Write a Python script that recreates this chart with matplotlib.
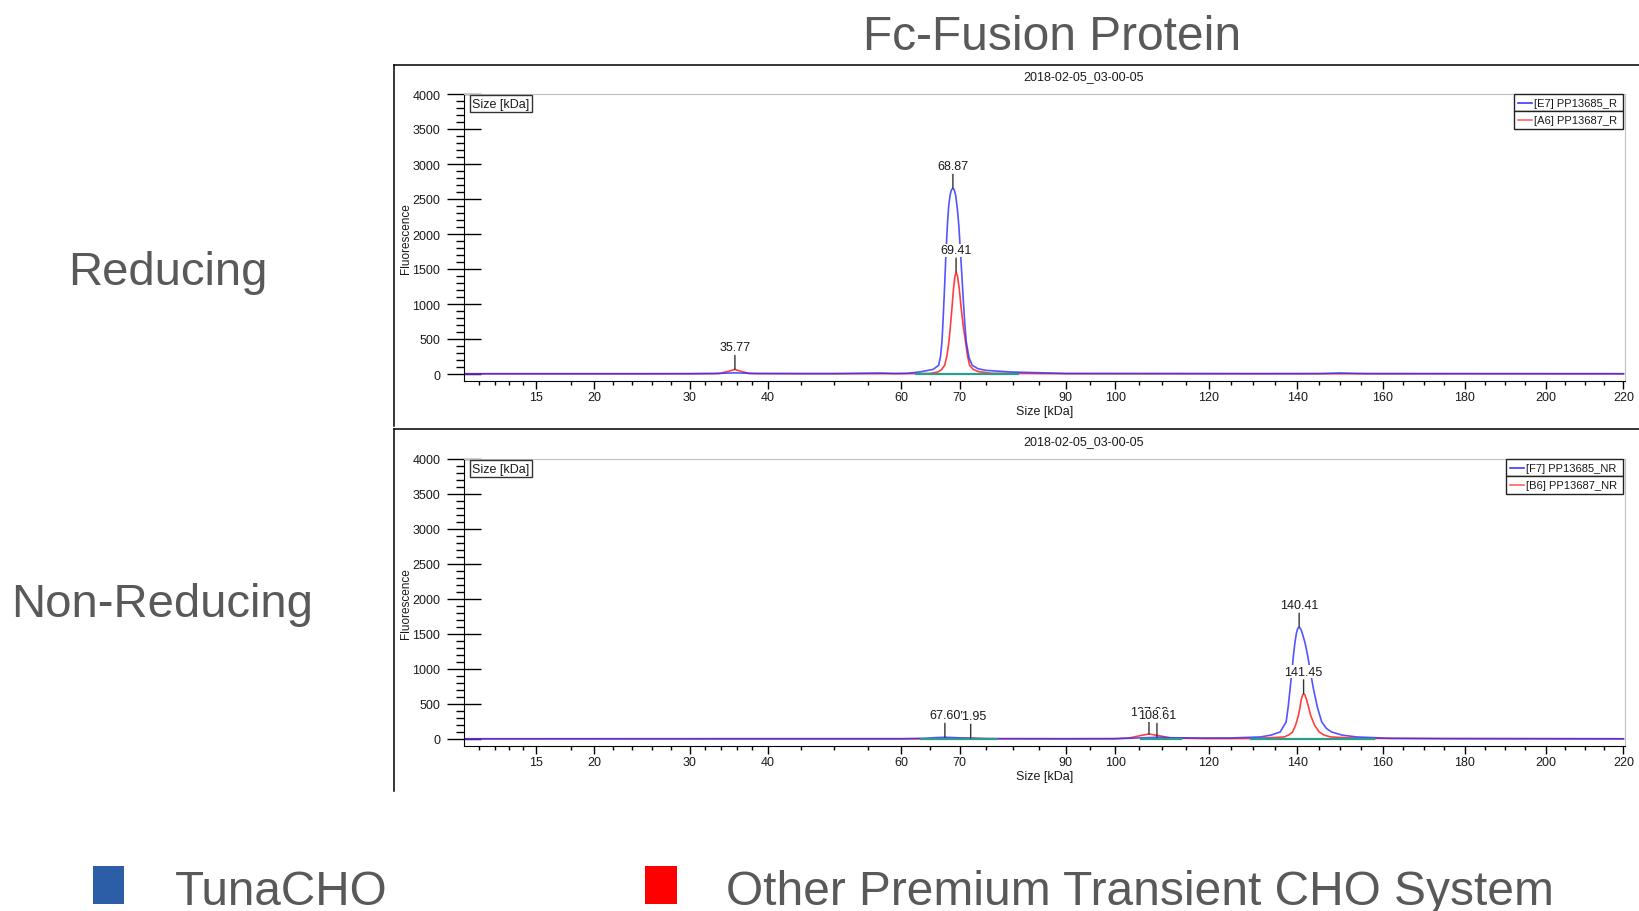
import numpy as np
import matplotlib
matplotlib.use('Agg')
import matplotlib.pyplot as plt
from matplotlib.patches import Rectangle
from matplotlib.lines import Line2D

plt.rcParams['font.family'] = ['Liberation Sans', 'DejaVu Sans']

# size axis of the instrument is a ladder calibration (kDa -> column), not linear
ladder_kda = [9, 10, 11, 12, 13, 14, 15, 20, 30, 40, 60, 70, 90, 100, 120, 140, 160, 180, 200, 220, 225]
ladder_col = [451, 465.5, 480, 495.3, 510, 523.5, 536.8, 594.8, 690.4, 768.4, 901.2, 959.8,
              1065.7, 1115.3, 1209, 1297.3, 1382.6, 1464.6, 1545.3, 1623, 1642.5]

major_ticks = [15, 20, 30, 40, 60, 70, 90, 100, 120, 140, 160, 180, 200, 220]
minor_ticks = [11, 12, 13, 14, 18, 22, 24, 26, 28, 32, 34, 36, 38, 45, 50, 55, 65, 75, 80, 85, 95,
               105, 110, 115, 125, 130, 135, 145, 150, 155, 165, 170, 175, 185, 190, 195, 205, 210, 215]

# ---- Reducing traces (kDa, fluorescence)
red_R_x = [10, 30, 33.8, 35.0, 35.77, 36.5, 37.6, 45, 60, 65, 66.3, 66.9, 67.46, 67.85, 68.19, 68.45,
           68.7, 68.95, 69.18, 69.41, 69.65, 69.95, 70.32, 70.7, 71.14, 71.5, 71.9, 72.6, 73.5, 76, 90, 220]
red_R_y = [3, 3, 8, 40, 66, 40, 8, 4, 4, 8, 29, 60, 124, 260, 457, 690,
           932, 1200, 1380, 1456, 1400, 1220, 932, 680, 457, 260, 124, 65, 35, 10, 4, 3]
blue_R_x = [10, 25, 33, 35.8, 38.5, 50, 57, 59, 61, 63.2, 65.5, 66.44, 66.75, 67.0, 67.2, 67.41, 67.65,
            67.92, 68.15, 68.4, 68.62, 68.87, 69.1, 69.35, 69.6, 69.88, 70.25, 70.62, 70.95, 71.27,
            71.8, 72.4, 73.5, 75.0, 79.5, 90, 130, 145, 150, 156, 220]
blue_R_y = [4, 4, 6, 16, 6, 6, 14, 8, 10, 29, 66, 124, 250, 457, 780, 1170, 1650,
            2121, 2400, 2560, 2630, 2654, 2630, 2550, 2380, 2121, 1650, 1170, 760, 457,
            230, 124, 75, 52, 29, 8, 5, 6, 14, 6, 4]
teal_R = [(62.5, 81)]
peak_pos_R = [35.77, 68.87, 69.41]
peak_hgt_R = [66, 2654, 1456]
peak_lab_R = ['35.77', '68.87', '69.41']
legend_R = ['[E7] PP13685_R', '[A6] PP13687_R']

# ---- Non-reducing traces
red_NR_x = [10, 40, 60, 68, 71.95, 75, 90, 100, 103, 105.5, 107.2, 109.5, 112, 120, 130, 137.0, 138.1,
            138.9, 139.6, 140.25, 140.6, 140.9, 141.2, 141.45, 141.75, 142.1, 142.6, 143.1, 144.0,
            145.1, 146.3, 147.8, 155, 220]
red_NR_y = [3, 3, 3, 4, 12, 4, 3, 4, 15, 50, 72, 45, 12, 5, 6, 29, 60,
            100, 200, 337, 450, 560, 625, 647, 630, 570, 460, 337, 200,
            100, 55, 29, 8, 3]
blue_NR_x = [10, 40, 60, 64, 66, 67.6, 69.5, 72, 76, 90, 100, 104, 108.9, 112, 118, 125, 131.6, 134,
             136.1, 137.45, 137.9, 138.35, 138.75, 139.1, 139.45, 139.8, 140.1, 140.41, 140.8, 141.2,
             141.8, 142.4, 143.05, 143.75, 144.7, 145.7, 146.8, 148.0, 150.5, 153.9, 161.8, 175, 220]
blue_NR_y = [3, 4, 4, 10, 20, 25, 18, 10, 5, 4, 5, 12, 25, 18, 14, 15, 29, 55,
             100, 243, 450, 718, 960, 1193, 1380, 1520, 1580, 1598, 1570, 1500,
             1370, 1193, 960, 718, 450, 243, 150, 100, 55, 29, 10, 5, 3]
teal_NR = [(63.5, 77), (105.5, 114), (129.5, 158)]
# marker position on the size axis, marker height, printed label (drawn in this order)
peak_pos_NR = [72.1, 67.5, 107.2, 108.9, 140.41, 141.45]
peak_hgt_NR = [12, 25, 72, 25, 1598, 647]
peak_lab_NR = ['71.95', '67.60', '107.63', '108.61', '140.41', '141.45']
legend_NR = ['[F7] PP13685_NR', '[B6] PP13687_NR']

run_date = '2018-02-05_03-00-05'

W, H = 1639, 912
BLUE = '#2a2aff'
RED = '#ff2a2a'
TEAL = '#2a9d8f'
GREY = '#595959'


def fwd(x):
    return np.interp(x, ladder_kda, ladder_col)


def inv(p):
    return np.interp(p, ladder_col, ladder_kda)


fig = plt.figure(figsize=(W / 100, H / 100), dpi=100)

AX_L, AX_R = 464, 1625


def panel(top_px, bx, by, rx, ry, teal, ppos, phgt, plab, leg, leg_left):
    axh = 287
    ax = fig.add_axes([AX_L / W, 1 - (top_px + axh) / H, (AX_R - AX_L) / W, axh / H])
    ax.set_xscale('function', functions=(fwd, inv))
    ax.plot(rx, ry, color=RED, lw=1.2, alpha=0.9, zorder=2)
    ax.plot(bx, by, color=BLUE, lw=1.2, alpha=0.8, zorder=2.1)
    for a, b in teal:
        ax.plot([a, b], [0, 0], color=TEAL, lw=1.6, zorder=2.5)
    ax.set_xlim(9.95, 220.4)
    ax.set_ylim(-100, 4000)

    ax.set_xticks(major_ticks)
    ax.set_xticks(minor_ticks, minor=True)
    ax.set_xticklabels([str(t) for t in major_ticks])
    ax.set_yticks(np.arange(0, 4001, 500))
    ax.set_yticks([v for v in range(0, 4001, 100) if v % 500], minor=True)
    ax.tick_params(axis='y', which='major', direction='inout', length=24, width=1, pad=5,
                   labelsize=9, labelcolor='#1a1a1a')
    ax.tick_params(axis='y', which='minor', direction='out', length=6, width=1)
    ax.tick_params(axis='x', which='major', direction='out', length=6, width=1, pad=1.5,
                   labelsize=9, labelcolor='#1a1a1a')
    ax.tick_params(axis='x', which='minor', direction='out', length=3, width=1)
    for s in ['top', 'right']:
        ax.spines[s].set_color('#c0c0c0')
    for s in ['left', 'bottom']:
        ax.spines[s].set_color('black')

    ax.set_xlabel('Size [kDa]', fontsize=9, labelpad=1, color='#1a1a1a')
    ax.text(-0.05, 0.5, 'Fluorescence', rotation=90, transform=ax.transAxes,
            ha='center', va='center', fontsize=8.5, color='#1a1a1a')
    ax.text(0.0073, 0.9657, 'Size [kDa]', transform=ax.transAxes, ha='left', va='center',
            fontsize=9, color='#1a1a1a',
            bbox=dict(boxstyle='square,pad=0.2', fc='white', ec='#333333', lw=1))
    ax.text(0.534, 1.062, run_date, transform=ax.transAxes, ha='center', va='center',
            fontsize=9, color='#1a1a1a')

    for x, h, lab in zip(ppos, phgt, plab):
        ax.annotate(lab, xy=(x, h), xytext=(0, 15.8), textcoords='offset points',
                    ha='center', va='center', fontsize=9, color='#1a1a1a', zorder=4,
                    bbox=dict(boxstyle='square,pad=0.05', fc='white', ec='none'),
                    arrowprops=dict(arrowstyle='-', color='#333333', lw=1,
                                    shrinkA=1, shrinkB=0))

    # legend drawn as the instrument's boxed table
    row_h = 17.3 / axh
    left = (leg_left - AX_L) / (AX_R - AX_L)
    right = (1623 - AX_L) / (AX_R - AX_L)
    px = 1 / (AX_R - AX_L)
    for i, (lab, col) in enumerate(zip(leg, ['#3a3aff', '#ff6464'])):
        y0 = 1 - (i + 1) * row_h
        ax.add_patch(Rectangle((left, y0), right - left, row_h, transform=ax.transAxes,
                               fc='white', ec='#222222', lw=1, zorder=5, clip_on=False))
        ax.plot([left + 4 * px, left + 18 * px], [y0 + row_h / 2] * 2, color=col, lw=1.2,
                transform=ax.transAxes, zorder=6, clip_on=False)
        ax.text(left + 20 * px, y0 + row_h / 2, lab, transform=ax.transAxes, ha='left',
                va='center', fontsize=8, color='#1a1a1a', zorder=6)
    return ax


ax1 = panel(95, blue_R_x, blue_R_y, red_R_x, red_R_y, teal_R,
            peak_pos_R, peak_hgt_R, peak_lab_R, legend_R, 1513.8)
ax2 = panel(460, blue_NR_x, blue_NR_y, red_NR_x, red_NR_y, teal_NR,
            peak_pos_NR, peak_hgt_NR, peak_lab_NR, legend_NR, 1506.2)


# panel frames
def fline(x0, y0, x1, y1):
    fig.add_artist(Line2D([x0 / W, x1 / W], [1 - y0 / H, 1 - y1 / H], color='black', lw=1.1))


fline(393.5, 65.5, W, 65.5)
fline(393.5, 65.5, 393.5, 427)
fline(393.5, 430, W, 430)
fline(393.5, 430, 393.5, 792)

# slide texts
fig.text(1052 / W, 1 - 50.2 / H, 'Fc-Fusion Protein', ha='center', va='baseline',
         fontsize=34.5, color=GREY)
fig.text(167.8 / W, 1 - 285.4 / H, 'Reducing', ha='center', va='baseline', fontsize=34, color=GREY)
fig.text(162.5 / W, 1 - 616.7 / H, 'Non-Reducing', ha='center', va='baseline', fontsize=34, color=GREY)

fig.add_artist(Rectangle((93 / W, 1 - 904.7 / H), 31.5 / W, 37.7 / H, transform=fig.transFigure,
                         fc='#2b5ea7', ec='none'))
fig.add_artist(Rectangle((645 / W, 1 - 904.7 / H), 32 / W, 37.7 / H, transform=fig.transFigure,
                         fc='#ff0000', ec='none'))
fig.text(175.2 / W, 1 - 904.7 / H, 'TunaCHO', ha='left', va='baseline', fontsize=34.3, color=GREY)
fig.text(726.5 / W, 1 - 904.7 / H, 'Other Premium Transient CHO System', ha='left', va='baseline',
         fontsize=34.5, color=GREY)

fig.savefig('out.png', dpi=100)
